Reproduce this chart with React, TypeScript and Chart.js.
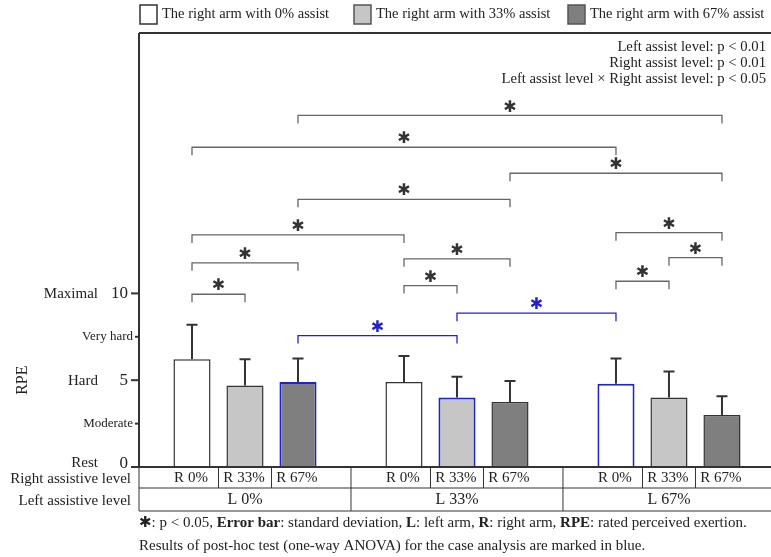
import React, { useEffect, useRef } from 'react';
import { Chart, registerables } from 'chart.js';

Chart.register(...registerables);

// ---------- data ----------
const groupLabels = ['L 0%', 'L 33%', 'L 67%'];
const rightLabels = ['R 0%', 'R 33%', 'R 67%'];
const legendLabels = [
  'The right arm with 0% assist',
  'The right arm with 33% assist',
  'The right arm with 67% assist',
];
// RPE mean per left-assist group, one array per right-assist level
const rpeR0 = [6.2, 4.9, 4.8];
const rpeR33 = [4.7, 4.0, 4.0];
const rpeR67 = [4.9, 3.75, 3.0];
// standard deviations
const sdR0 = [2.0, 1.5, 1.45];
const sdR33 = [1.5, 1.2, 1.5];
const sdR67 = [1.35, 1.2, 1.07];
// bars outlined in blue: [group, right level]
const blueBars = [
  [0, 2],
  [1, 1],
  [2, 0],
];
const yTickValues = [0, 2.5, 5, 7.5, 10];
const yTickWords = ['Rest', 'Moderate', 'Hard', 'Very hard', 'Maximal'];
const yTickNumbers = ['0', '', '5', '', '10'];
const yTitle = 'RPE';
const rowTitles = ['Right assistive level', 'Left assistive level'];
const statsLines = [
  'Left assist level: p < 0.01',
  'Right assist level: p < 0.01',
  'Left assist level \u00d7 Right assist level: p < 0.05',
];
// significance brackets: [fromGroup, fromRight, toGroup, toRight, level (RPE units), blue]
const brackets: [number, number, number, number, number, boolean][] = [
  [0, 2, 2, 2, 20.25, false],
  [0, 0, 2, 0, 18.42, false],
  [1, 2, 2, 2, 16.92, false],
  [0, 2, 1, 2, 15.42, false],
  [0, 0, 1, 0, 13.37, false],
  [2, 0, 2, 2, 13.5, false],
  [0, 0, 0, 2, 11.76, false],
  [1, 0, 1, 2, 11.99, false],
  [2, 1, 2, 2, 12.06, false],
  [0, 0, 0, 1, 9.95, false],
  [1, 0, 1, 1, 10.45, false],
  [2, 0, 2, 1, 10.7, false],
  [0, 2, 1, 1, 7.57, true],
  [1, 1, 2, 0, 8.86, true],
];
const footnoteRuns: [string, boolean][] = [
  [': p < 0.05, ', false],
  ['Error bar', true],
  [': standard deviation, ', false],
  ['L', true],
  [': left arm, ', false],
  ['R', true],
  [': right arm, ', false],
  ['RPE', true],
  [': rated perceived exertion.', false],
];
const footnote2 = 'Results of post-hoc test (one-way ANOVA) for the case analysis are marked in blue.';

// ---------- styles ----------
const STAR = '\u2731';
const SERIF = '"Liberation Serif", "DejaVu Serif", serif';
const STARFONT = '"DejaVu Sans", sans-serif';
const FILLS = ['#ffffff', '#c6c6c6', '#7f7f7f'];
const LEGEND_STROKE = ['#333333', '#555555', '#555555'];
const BLUE = '#2222cc';
const DARK = '#333333';

const means = [rpeR0, rpeR33, rpeR67];
const sds = [sdR0, sdR33, sdR67];
const slotOf = (g: number, r: number) => g * 4 + r;
const isBlue = (g: number, r: number) => blueBars.some(([bg, br]) => bg === g && br === r);

const overlay = {
  id: 'overlay',
  afterDatasetsDraw(chart: any) {
    const { ctx, chartArea: a } = chart;
    const xs = chart.scales.x;
    const ys = chart.scales.y;
    ctx.save();

    // error bars
    ctx.strokeStyle = DARK;
    ctx.lineWidth = 2;
    means.forEach((vals, r) => {
      vals.forEach((m, g) => {
        const px = xs.getPixelForValue(slotOf(g, r));
        const y0 = ys.getPixelForValue(m);
        const y1 = ys.getPixelForValue(m + sds[r][g]);
        ctx.beginPath();
        ctx.moveTo(px, y0);
        ctx.lineTo(px, y1);
        ctx.moveTo(px - 5.5, y1);
        ctx.lineTo(px + 5.5, y1);
        ctx.stroke();
      });
    });

    // axes frame
    ctx.strokeStyle = DARK;
    ctx.lineWidth = 2;
    ctx.beginPath();
    ctx.moveTo(a.left, a.top);
    ctx.lineTo(a.right, a.top);
    ctx.moveTo(a.left, a.top);
    ctx.lineTo(a.left, a.bottom);
    ctx.moveTo(a.left - 8, a.bottom);
    ctx.lineTo(a.right, a.bottom);
    ctx.stroke();

    // y ticks and labels
    ctx.fillStyle = '#222';
    ctx.textBaseline = 'middle';
    yTickValues.forEach((v, i) => {
      const py = ys.getPixelForValue(v);
      const major = yTickNumbers[i] !== '';
      ctx.lineWidth = 2;
      ctx.beginPath();
      ctx.moveTo(a.left - (major ? 8 : 4), py);
      ctx.lineTo(a.left, py);
      ctx.stroke();
      ctx.textAlign = 'right';
      if (major) {
        ctx.font = `17px ${SERIF}`;
        ctx.fillText(yTickNumbers[i], a.left - 11, py + (v === 0 ? -3 : 0));
        ctx.font = `15px ${SERIF}`;
        ctx.fillText(yTickWords[i], a.left - 41, py + (v === 0 ? -4 : 1));
      } else {
        ctx.font = `13px ${SERIF}`;
        ctx.fillText(yTickWords[i], a.left - 6, py);
      }
    });
    // y title
    ctx.save();
    ctx.translate(23, ys.getPixelForValue(5));
    ctx.rotate(-Math.PI / 2);
    ctx.textAlign = 'center';
    ctx.font = `16px ${SERIF}`;
    ctx.fillText(yTitle, 0, 0);
    ctx.restore();

    // brackets
    brackets.forEach(([g1, r1, g2, r2, lvl, blue]) => {
      const x1 = xs.getPixelForValue(slotOf(g1, r1));
      const x2 = xs.getPixelForValue(slotOf(g2, r2));
      const py = ys.getPixelForValue(lvl);
      ctx.strokeStyle = blue ? BLUE : '#666';
      ctx.lineWidth = 1.3;
      ctx.beginPath();
      ctx.moveTo(x1, py + 8);
      ctx.lineTo(x1, py);
      ctx.lineTo(x2, py);
      ctx.lineTo(x2, py + 8);
      ctx.stroke();
      ctx.fillStyle = blue ? BLUE : DARK;
      ctx.font = `16px ${STARFONT}`;
      ctx.textAlign = 'center';
      ctx.textBaseline = 'middle';
      ctx.fillText(STAR, (x1 + x2) / 2, py - 8);
    });

    // table below axis
    const r1b = a.bottom + 21;
    const r2b = a.bottom + 44;
    ctx.strokeStyle = DARK;
    ctx.lineWidth = 1;
    ctx.beginPath();
    ctx.moveTo(a.left, r1b);
    ctx.lineTo(a.right, r1b);
    ctx.moveTo(a.left, r2b);
    ctx.lineTo(a.right, r2b);
    ctx.moveTo(a.left, a.bottom);
    ctx.lineTo(a.left, r2b);
    groupLabels.forEach((_, g) => {
      [0.5, 1.5].forEach((o) => {
        const sx = xs.getPixelForValue(g * 4 + o);
        ctx.moveTo(sx, a.bottom);
        ctx.lineTo(sx, r1b);
      });
      if (g > 0) {
        const gx = xs.getPixelForValue(g * 4 - 1);
        ctx.moveTo(gx, a.bottom);
        ctx.lineTo(gx, r2b);
      }
    });
    ctx.stroke();
    ctx.fillStyle = '#222';
    ctx.textBaseline = 'middle';
    ctx.textAlign = 'center';
    ctx.font = `15px ${SERIF}`;
    groupLabels.forEach((gl, g) => {
      rightLabels.forEach((rl, r) => {
        ctx.fillText(rl, xs.getPixelForValue(slotOf(g, r)) - 1, a.bottom + 11);
      });
    });
    ctx.font = `16px ${SERIF}`;
    groupLabels.forEach((gl, g) => {
      ctx.fillText(gl, xs.getPixelForValue(slotOf(g, 1)), a.bottom + 33);
    });
    ctx.textAlign = 'right';
    ctx.font = `15px ${SERIF}`;
    ctx.fillText(rowTitles[0], a.left - 8, a.bottom + 12);
    ctx.fillText(rowTitles[1], a.left - 8, a.bottom + 34);

    // legend
    const legendX = [140, 354, 568];
    legendLabels.forEach((lab, i) => {
      ctx.fillStyle = FILLS[i];
      ctx.strokeStyle = LEGEND_STROKE[i];
      ctx.lineWidth = 1.5;
      ctx.fillRect(legendX[i], 5, 17, 19);
      ctx.strokeRect(legendX[i], 5, 17, 19);
      ctx.fillStyle = '#222';
      ctx.textAlign = 'left';
      ctx.textBaseline = 'middle';
      ctx.font = `14.5px ${SERIF}`;
      ctx.fillText(lab, legendX[i] + 22, 14);
    });

    // stats text
    ctx.textAlign = 'right';
    ctx.font = `14.7px ${SERIF}`;
    statsLines.forEach((s, i) => {
      ctx.fillText(s, 766, 47.5 + i * 15.8);
    });

    // footnotes
    let fx = a.left;
    const fy = r2b + 12;
    ctx.textAlign = 'left';
    ctx.font = `15px ${STARFONT}`;
    ctx.fillText(STAR, fx, fy);
    fx += ctx.measureText(STAR).width;
    footnoteRuns.forEach(([t, b]) => {
      ctx.font = `${b ? 'bold ' : ''}15px ${SERIF}`;
      ctx.fillText(t, fx, fy);
      fx += ctx.measureText(t).width;
    });
    ctx.font = `15px ${SERIF}`;
    ctx.fillText(footnote2, a.left, r2b + 35);

    ctx.restore();
  },
};

export default function App() {
  const ref = useRef<HTMLCanvasElement | null>(null);
  useEffect(() => {
    if (!ref.current) return;
    const datasets = means.map((vals, r) => ({
      label: legendLabels[r],
      data: vals.map((v, g) => ({ x: slotOf(g, r), y: v })),
      backgroundColor: FILLS[r],
      borderColor: vals.map((_, g) => (isBlue(g, r) ? BLUE : DARK)),
      borderWidth: vals.map((_, g) => (isBlue(g, r) ? 2 : 1.5)),
      grouped: false,
      categoryPercentage: 1,
      barPercentage: 0.7,
    }));
    const chart = new Chart(ref.current, {
      type: 'bar',
      data: { datasets } as any,
      options: {
        responsive: false,
        animation: false,
        devicePixelRatio: 1,
        layout: { padding: { left: 139, top: 33, right: 0, bottom: 90 } },
        plugins: { legend: { display: false }, tooltip: { enabled: false } },
        scales: {
          x: { type: 'linear', display: false, offset: false, min: -1, max: 10.925 },
          y: { type: 'linear', display: false, min: 0, max: 25 },
        },
      } as any,
      plugins: [overlay],
    });
    return () => chart.destroy();
  }, []);
  return (
    <div style={{ position: 'absolute', left: 0, top: 0, width: 771, height: 557, background: '#fff' }}>
      <canvas ref={ref} width={771} height={557} style={{ display: 'block' }} />
    </div>
  );
}
